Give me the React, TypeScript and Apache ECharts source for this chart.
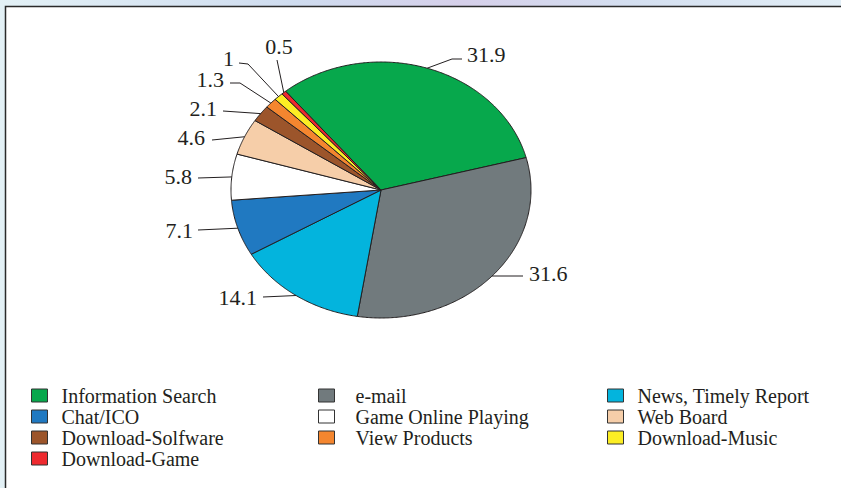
import React, { useEffect, useRef } from "react";
import * as echarts from "echarts";

const categories = [
  "Information Search",
  "e-mail",
  "News, Timely Report",
  "Chat/ICO",
  "Game Online Playing",
  "Web Board",
  "Download-Solfware",
  "View Products",
  "Download-Music",
  "Download-Game",
];
const values = [31.9, 31.6, 14.1, 7.1, 5.8, 4.6, 2.1, 1.3, 1, 0.5];
const colors = [
  "#07a84c",
  "#717a7d",
  "#03b4dd",
  "#2079c1",
  "#ffffff",
  "#f6cea9",
  "#9c552b",
  "#f4862f",
  "#fcee24",
  "#ee2a2f",
];

// layout of the label leader lines (after the computed edge anchor) and texts
const labelLayout: { pts: number[][]; tx: number; ty: number; align: string }[] = [
  { pts: [[452, 59], [462, 59]], tx: 467, ty: 54, align: "left" },
  { pts: [[523, 276]], tx: 529, ty: 273, align: "left" },
  { pts: [[263, 297]], tx: 257, ty: 297, align: "right" },
  { pts: [[198, 230]], tx: 193, ty: 230, align: "right" },
  { pts: [[198, 178]], tx: 192, ty: 176, align: "right" },
  { pts: [[212, 140]], tx: 205, ty: 137, align: "right" },
  { pts: [[223, 111]], tx: 217, ty: 108, align: "right" },
  { pts: [[240, 83], [230, 83]], tx: 224, ty: 79, align: "right" },
  { pts: [[248, 64], [239, 63]], tx: 234, ty: 58, align: "right" },
  { pts: [[277, 60]], tx: 279, ty: 46, align: "center" },
];

const CX = 381;
const CY = 190;
const RX = 150;
const RY = 128;
const START = 129.5;
const SERIF = "'Liberation Serif', 'Times New Roman', serif";

export default function App() {
  const ref = useRef<HTMLDivElement>(null);
  useEffect(() => {
    if (!ref.current) return;
    const chart = echarts.init(ref.current, undefined, { renderer: "svg" });
    const total = values.reduce((a, b) => a + b, 0);
    const cum: number[] = [];
    values.reduce((acc, v, i) => {
      cum[i] = acc;
      return acc + v;
    }, 0);

    const pt = (deg: number) => {
      const r = (deg * Math.PI) / 180;
      return [CX + RX * Math.cos(r), CY - RY * Math.sin(r)];
    };

    const series = categories.map((name, i) => ({
      type: "custom",
      name,
      coordinateSystem: "none",
      silent: true,
      itemStyle: { color: colors[i] },
      data: [[values[i]]],
      renderItem: (params: any, api: any) => {
        const v = api.value(0);
        const a0 = START - (cum[i] / total) * 360;
        const a1 = a0 - (v / total) * 360;
        const pts: number[][] = [[CX, CY]];
        for (let a = a0; a > a1; a -= 0.5) pts.push(pt(a));
        pts.push(pt(a1));
        const anchor = pt((a0 + a1) / 2);
        const L = labelLayout[i];
        return {
          type: "group",
          children: [
            {
              type: "polygon",
              shape: { points: pts },
              style: { fill: colors[i], stroke: "#231f20", lineWidth: 1 },
            },
            {
              type: "polyline",
              shape: { points: [anchor, ...L.pts] },
              style: { fill: "none", stroke: "#231f20", lineWidth: 1 },
            },
            {
              type: "text",
              x: L.tx,
              y: L.ty,
              style: {
                text: String(v),
                font: `22px ${SERIF}`,
                fill: "#231f20",
                align: L.align,
                verticalAlign: "middle",
              },
            },
          ],
        };
      },
    }));

    const legendCols = [
      { left: 31, pad: 9 },
      { left: 318, pad: 16 },
      { left: 607, pad: 9 },
    ];
    const legend = legendCols.map((c, col) => ({
      orient: "vertical",
      left: c.left,
      top: 385,
      padding: 0,
      itemGap: 0,
      itemWidth: 16,
      itemHeight: 13,
      icon: "rect",
      selectedMode: false,
      itemStyle: { borderColor: "#333333", borderWidth: 1 },
      textStyle: {
        fontFamily: SERIF,
        fontSize: 20,
        color: "#231f20",
        lineHeight: 21,
        padding: [0, 0, 0, c.pad],
      },
      data: categories.filter((_, i) => i % 3 === col),
    }));

    chart.setOption({
      animation: false,
      backgroundColor: "transparent",
      graphic: [
        {
          type: "rect",
          z: -10,
          shape: { x: 5.5, y: 6.5, width: 850, height: 500 },
          style: { fill: "#ffffff", stroke: "#2a2a2a", lineWidth: 1.5 },
        },
      ],
      legend,
      series,
    });
    return () => chart.dispose();
  }, []);
  return (
    <div
      ref={ref}
      style={{
        position: "fixed",
        left: 0,
        top: 0,
        width: 841,
        height: 488,
        background:
          "linear-gradient(90deg, #e3f1f6 0%, #cfdcef 35%, #d6d0ea 55%, #d4dff0 75%, #e2eef6 100%)",
      }}
    />
  );
}
